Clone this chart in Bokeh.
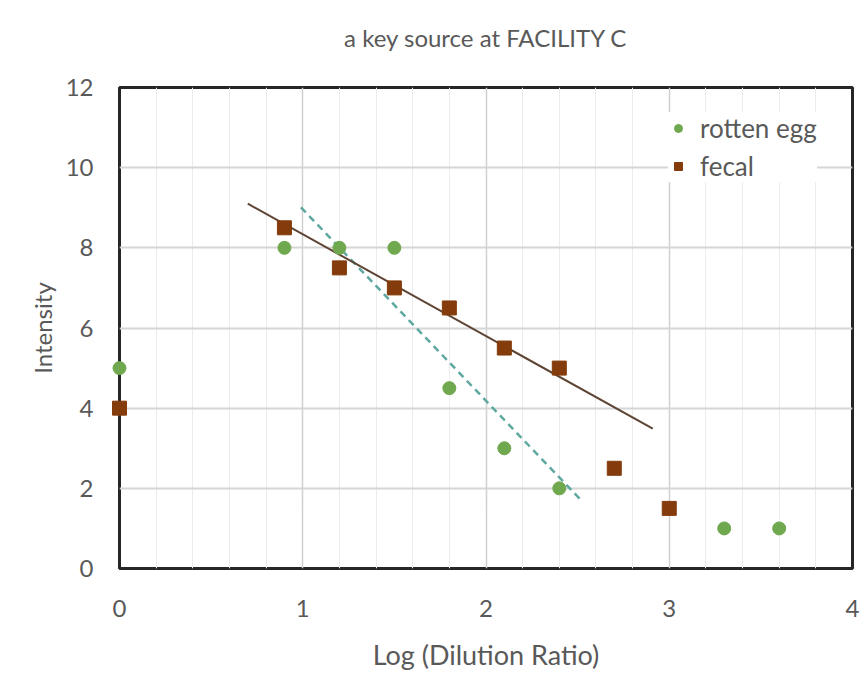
from bokeh.plotting import figure
from bokeh.models import FixedTicker, Legend, LegendItem, Range1d, Title
from bokeh.embed import file_html
from bokeh.resources import INLINE

# ---- data ----
egg_x = [0.0, 0.9, 1.2, 1.5, 1.8, 2.1, 2.4, 3.3, 3.6]
egg_y = [5, 8, 8, 8, 4.5, 3, 2, 1, 1]
fecal_x = [0.0, 0.9, 1.2, 1.5, 1.8, 2.1, 2.4, 2.7, 3.0]
fecal_y = [4, 8.5, 7.5, 7, 6.5, 5.5, 5, 2.5, 1.5]
# trend lines (end points)
egg_trend_x = [0.99, 2.52]
egg_trend_y = [9.01, 1.70]
fecal_trend_x = [0.70, 2.91]
fecal_trend_y = [9.10, 3.49]

x_ticks = [0, 1, 2, 3, 4]
x_minor = [0.2, 0.4, 0.6, 0.8, 1.2, 1.4, 1.6, 1.8, 2.2, 2.4, 2.6, 2.8, 3.2, 3.4, 3.6, 3.8]
y_ticks = [0, 2, 4, 6, 8, 10, 12]
title_text = "a key source at FACILITY C"

FONT = "Lato"
TXT = "#595959"

p = figure(width=864, height=675, output_backend="svg", toolbar_location=None,
           x_range=Range1d(0, 4), y_range=Range1d(0, 12),
           min_border_left=119, min_border_right=12, min_border_top=87, min_border_bottom=107)
p.background_fill_color = "white"
p.border_fill_color = "white"
p.outline_line_color = "#262626"
p.outline_line_width = 3

# spacer between frame and title, then the title itself
spacer = Title(text=" ", text_font_size="10px", standoff=18, text_color="white")
p.add_layout(spacer, "above")
p.add_layout(Title(text=title_text, align="center", text_font=FONT, text_font_size="24px",
                   text_font_style="normal", text_color=TXT, standoff=10), "above")

for ax in (p.xaxis[0], p.yaxis[0]):
    ax.axis_line_color = None
    ax.major_tick_line_color = None
    ax.minor_tick_line_color = None
    ax.major_tick_out = 0
    ax.major_tick_in = 0
    ax.minor_tick_out = 0
    ax.minor_tick_in = 0
    ax.major_label_text_font = FONT
    ax.major_label_text_font_size = "24px"
    ax.major_label_text_color = TXT
    ax.axis_label_text_font = FONT
    ax.axis_label_text_font_style = "normal"
    ax.axis_label_text_color = TXT

p.xaxis.axis_label_text_font_size = "27px"
p.yaxis.axis_label_text_font_size = "24px"
p.xaxis.ticker = FixedTicker(ticks=x_ticks, minor_ticks=x_minor)
p.yaxis.ticker = FixedTicker(ticks=y_ticks)
p.xaxis.axis_label = "Log (Dilution Ratio)"
p.yaxis.axis_label = "Intensity"
p.xaxis.major_label_standoff = 31
p.xaxis.axis_label_standoff = 18
p.yaxis.major_label_standoff = 26
p.yaxis.axis_label_standoff = 6

p.xgrid.grid_line_color = "#d0d0d0"
p.xgrid.grid_line_width = 1.5
p.xgrid.minor_grid_line_color = "#ececec"
p.xgrid.minor_grid_line_width = 1
p.ygrid.grid_line_color = "#d6d6d6"
p.ygrid.grid_line_width = 2

GREEN = "#6FA84E"
BROWN = "#843C0C"

r_et = p.line(egg_trend_x, egg_trend_y, line_color="#5FA8A0", line_width=2.5, line_dash="7 5")
r_ft = p.line(fecal_trend_x, fecal_trend_y, line_color="#5E4433", line_width=2)
r_egg = p.scatter(egg_x, egg_y, marker="circle", size=13, fill_color=GREEN, line_color=GREEN, level="overlay")
r_fec = p.scatter(fecal_x, fecal_y, marker="square", size=14, fill_color=BROWN, line_color=BROWN, level="overlay")

legend = Legend(items=[LegendItem(label="rotten egg", renderers=[r_egg]),
                       LegendItem(label="fecal", renderers=[r_fec])],
                location=(549, 386))
legend.border_line_color = None
legend.background_fill_color = "white"
legend.background_fill_alpha = 1
legend.padding = 4
legend.margin = 0
legend.spacing = 6
legend.glyph_width = 20
legend.glyph_height = 26
legend.label_height = 26
legend.label_standoff = 12
legend.label_text_font = FONT
legend.label_text_font_size = "26px"
legend.label_text_color = TXT
p.add_layout(legend)

open("out.html", "w").write(file_html(p, INLINE))
